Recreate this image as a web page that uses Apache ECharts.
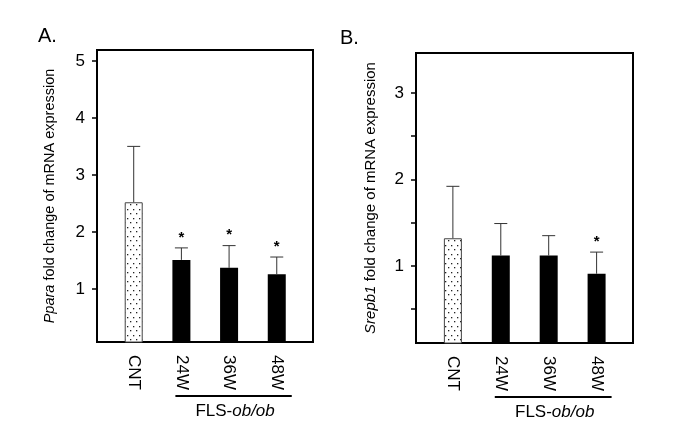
<!DOCTYPE html>
<html><head><meta charset="utf-8">
<script src="https://cdn.jsdelivr.net/npm/echarts@6/dist/echarts.min.js"></script>
<style>html,body{margin:0;padding:0;background:#fff}#c{width:680px;height:440px}</style>
</head><body><div id="c"></div>
<script>
const categories = ['CNT', '24W', '36W', '48W'];
const meanA = [2.52, 1.51, 1.37, 1.26];
const sdA = [0.98, 0.21, 0.39, 0.30];
const sigA = [0, 1, 1, 1];
const meanB = [1.32, 1.12, 1.12, 0.91];
const sdB = [0.60, 0.37, 0.23, 0.25];
const sigB = [0, 0, 0, 1];
const labelTicksA = [1, 2, 3, 4, 5];
const tickMarksA = [1, 2, 3, 4, 5];
const labelTicksB = [1, 2, 3];
const tickMarksB = [0.5, 1, 1.5, 2, 2.5, 3];
const groupFrom = 1, groupTo = 3;
const groupLabel = 'FLS-{i|ob/ob}';

const FONT = 'Liberation Sans, Arial, sans-serif';

// dotted pattern for control bar
const pc = document.createElement('canvas');
pc.width = 6; pc.height = 9;
const g = pc.getContext('2d');
g.fillStyle = '#fff'; g.fillRect(0, 0, 6, 9);
g.fillStyle = '#222';
g.fillRect(1, 2, 1.3, 1.3);
g.fillRect(4, 6, 1.3, 1.3);
const dotted = { image: pc, repeat: 'repeat' };

function barData(mean) {
  return mean.map((v, i) => ({
    value: [i, v],
    itemStyle: i === 0
      ? { color: dotted, borderColor: '#444', borderWidth: 1 }
      : { color: '#000' }
  }));
}
function errData(mean, sd, sig) {
  return mean.map((v, i) => [i, v, sd[i], sig[i]]);
}
function errRender(params, api) {
  const x = api.value(0), m = api.value(1), s = api.value(2), sig = api.value(3);
  const p0 = api.coord([x, m]);
  const p1 = api.coord([x, m + s]);
  const children = [
    { type: 'line', shape: { x1: p0[0], y1: p0[1], x2: p1[0], y2: p1[1] }, style: { stroke: '#333', lineWidth: 1 } },
    { type: 'line', shape: { x1: p1[0] - 6.5, y1: p1[1], x2: p1[0] + 6.5, y2: p1[1] }, style: { stroke: '#333', lineWidth: 1 } }
  ];
  if (sig) {
    children.push({ type: 'text', style: { text: '*', x: p1[0], y: p1[1] - 3, align: 'center', verticalAlign: 'bottom', font: 'bold 15px ' + FONT, fill: '#000' } });
  }
  return { type: 'group', children };
}
function groupRender(params, api) {
  const a = api.coord([api.value(0), api.value(2)]);
  const b = api.coord([api.value(1), api.value(2)]);
  const y = a[1] + 54;
  return {
    type: 'group',
    children: [
      { type: 'line', shape: { x1: a[0] - 6, y1: y, x2: b[0] + 15, y2: y }, style: { stroke: '#000', lineWidth: 2 } },
      { type: 'text', style: {
          text: groupLabel, x: (a[0] + b[0]) / 2 + 6, y: y + 15, align: 'center', verticalAlign: 'middle',
          font: '17px ' + FONT, fill: '#000',
          rich: { i: { fontStyle: 'italic', fontSize: 17, fontFamily: FONT } }
        } }
    ]
  };
}

function xAxis(gi) {
  return {
    type: 'value', gridIndex: gi, min: -0.77, max: 3.76, position: 'bottom',
    axisLine: { show: false, onZero: false }, axisTick: { show: false }, splitLine: { show: false },
    axisLabel: {
      customValues: [0, 1, 2, 3],
      formatter: v => categories[Math.round(v)],
      rotate: -90, margin: 13, fontSize: 17, fontFamily: FONT, color: '#000'
    }
  };
}
function yAxis(gi, min, max, labels, ticks, name, nameSize, nameGap) {
  return {
    type: 'value', gridIndex: gi, min, max, position: 'left',
    splitLine: { show: false },
    axisLine: { show: true, onZero: false, lineStyle: { color: '#000', width: 2 } },
    axisTick: { show: true, customValues: ticks, length: 5, lineStyle: { color: '#000', width: 1.5 } },
    axisLabel: { customValues: labels, margin: 12, fontSize: 17, fontFamily: FONT, color: '#000' },
    name, nameLocation: 'middle', nameGap,
    nameTextStyle: { fontSize: nameSize, fontFamily: FONT, color: '#000',
      rich: { i: { fontStyle: 'italic', fontSize: nameSize, fontFamily: FONT, color: '#000' } } }
  };
}

const chart = echarts.init(document.getElementById('c'), null, { renderer: 'canvas' });
chart.setOption({
  backgroundColor: '#fff',
  animation: false,
  title: [
    { text: 'A.', left: 33, top: 21, textStyle: { fontSize: 20, fontWeight: 'normal', fontFamily: FONT, color: '#000' } },
    { text: 'B.', left: 335, top: 23, textStyle: { fontSize: 20, fontWeight: 'normal', fontFamily: FONT, color: '#000' } }
  ],
  grid: [
    { left: 97, top: 50, width: 216, height: 292, show: true, borderColor: '#000', borderWidth: 2, backgroundColor: 'transparent' },
    { left: 416, top: 53, width: 217, height: 290, show: true, borderColor: '#000', borderWidth: 2, backgroundColor: 'transparent' }
  ],
  xAxis: [xAxis(0), xAxis(1)],
  yAxis: [
    yAxis(0, 0.07, 5.19, labelTicksA, tickMarksA, '{i|Ppara} fold change of mRNA expression', 14.5, 40),
    yAxis(1, 0.11, 3.46, labelTicksB, tickMarksB, '{i|Srepb1} fold change of mRNA expression', 15, 38)
  ],
  series: [
    { type: 'bar', xAxisIndex: 0, yAxisIndex: 0, barWidth: 18, clip: true, data: barData(meanA) },
    { type: 'bar', xAxisIndex: 1, yAxisIndex: 1, barWidth: 18, clip: true, data: barData(meanB) },
    { type: 'custom', xAxisIndex: 0, yAxisIndex: 0, renderItem: errRender, data: errData(meanA, sdA, sigA), z: 3 },
    { type: 'custom', xAxisIndex: 1, yAxisIndex: 1, renderItem: errRender, data: errData(meanB, sdB, sigB), z: 3 },
    { type: 'custom', xAxisIndex: 0, yAxisIndex: 0, clip: false, renderItem: groupRender, data: [[groupFrom, groupTo, 0.07]] },
    { type: 'custom', xAxisIndex: 1, yAxisIndex: 1, clip: false, renderItem: groupRender, data: [[groupFrom, groupTo, 0.11]] }
  ]
});
</script></body></html>
